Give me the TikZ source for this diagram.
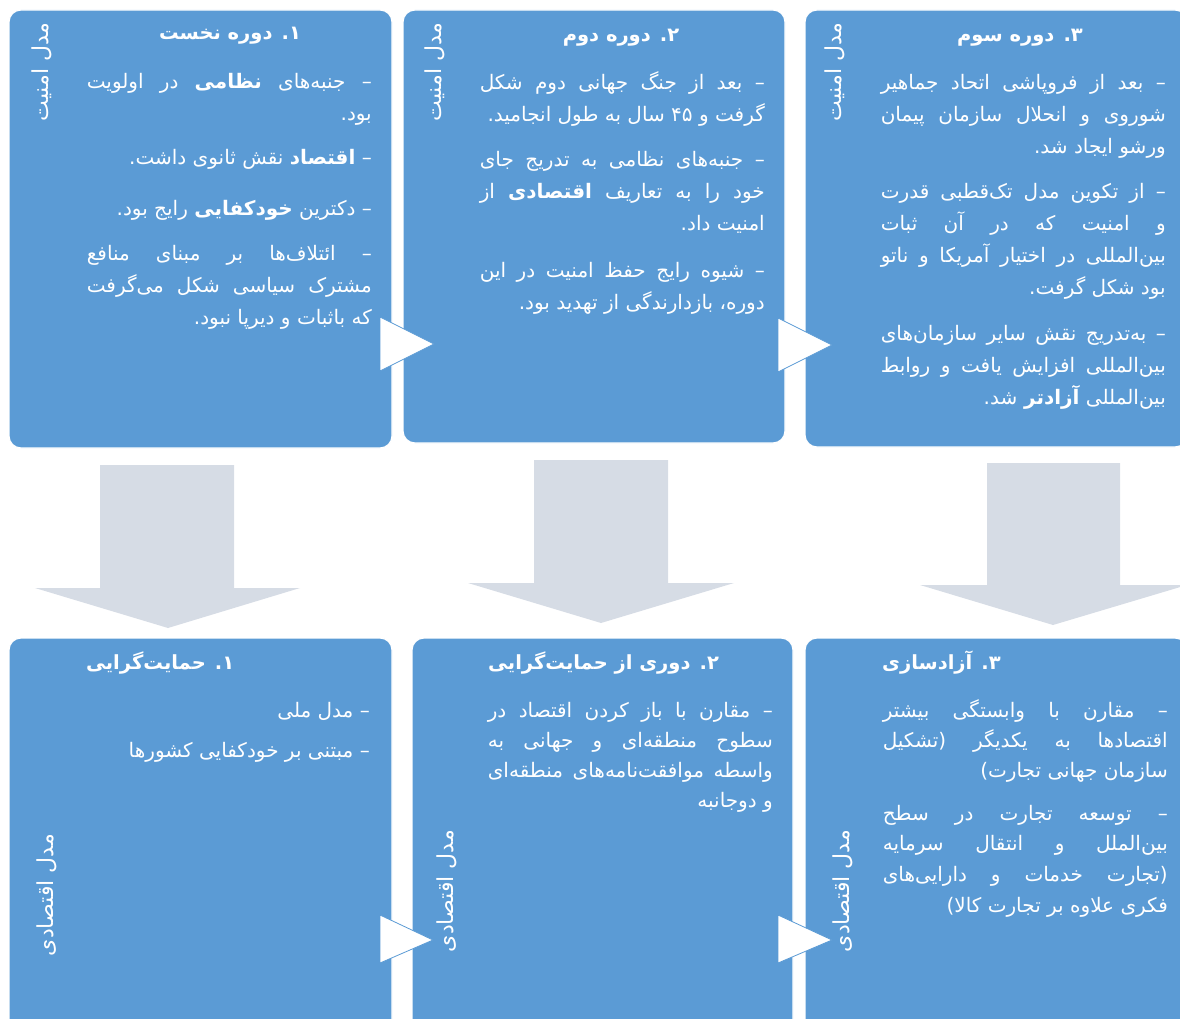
\documentclass[tikz,border=0pt]{standalone}
\usepackage{fontspec}
\newfontfamily\fa[Script=Arabic]{DejaVu Sans}
\TeXXeTstate=1
\definecolor{boxblue}{RGB}{91,155,213}
\definecolor{arrowgray}{RGB}{214,220,229}
\newlength\linew
\setlength\linew{285pt}
\newcommand\zw{^^^^200c}
\newcommand\jln[1]{\hbox to \linew{\beginR #1\endR}}
\newcommand\eln[1]{\hbox to \linew{\hfill\beginR #1\endR}}
\newcommand\paragr[2][32pt]{\vtop{\baselineskip=#1\relax #2}}
\newcommand\rl[1]{\beginR #1\endR}
\hbadness=10000
\hfuzz=50pt
\tikzset{
  box/.style={draw=white, line width=1.2pt, fill=boxblue, rounded corners=12pt, inner sep=0pt},
  txt/.style={text=white, font=\fa\fontsize{20}{32}\selectfont, inner sep=0pt, anchor=base east},
  ttl/.style={text=white, font=\fa\bfseries\fontsize{19.5}{22}\selectfont, inner sep=0pt, anchor=base},
  ttlw/.style={ttl, anchor=base west},
  side/.style={text=white, font=\fa\fontsize{22}{24}\selectfont, rotate=90, inner sep=0pt},
  tri/.style={fill=white, draw=boxblue, line width=0.8pt, line join=miter},
  downarrow/.style={fill=arrowgray}
}
\begin{document}
\begin{tikzpicture}[x=1pt,y=-1pt]
\useasboundingbox (0,0) rectangle (1180,1019);
\clip (0,0) rectangle (1180,1019);
% boxes
\node[box, minimum width=383pt, minimum height=438pt] (b1) at (200.5,229) {};
\node[box, minimum width=382pt, minimum height=433pt] (b2) at (594,226.5) {};
\node[box, minimum width=382pt, minimum height=437pt] (b3) at (996,228.5) {};
\node[box, minimum width=383pt, minimum height=402pt] (b4) at (200.5,839) {};
\node[box, minimum width=381pt, minimum height=402pt] (b5) at (602.5,839) {};
\node[box, minimum width=382pt, minimum height=402pt] (b6) at (996,839) {};
% down arrows
\coordinate (d1) at (168,628);
\coordinate (d2) at (601,623);
\coordinate (d3) at (1053,625);
\fill[downarrow] (100,465) -- (234,465) -- (234,588) -- (300,588) -- (d1) -- (35,588) -- (100,588) -- cycle;
\fill[downarrow] (534,460) -- (668,460) -- (668,583) -- (734,583) -- (d2) -- (468,583) -- (534,583) -- cycle;
\fill[downarrow] (987,463) -- (1120,463) -- (1120,585) -- (1187,585) -- (d3) -- (920,585) -- (987,585) -- cycle;
% side triangles
\coordinate (r1) at (434,344);
\coordinate (r2) at (832,345);
\coordinate (r3) at (433,940);
\coordinate (r4) at (832,940);
\draw[tri] (380,317) -- (r1) -- (380,371) -- cycle;
\draw[tri] (778,318) -- (r2) -- (778,372) -- cycle;
\draw[tri] (380,915) -- (r3) -- (380,963) -- cycle;
\draw[tri] (778,915) -- (r4) -- (778,963) -- cycle;
% side labels
\node[side] (s1) at (42,72) {\rl{مدل امنیت}};
\node[side] (s2) at (435,72) {\rl{مدل امنیت}};
\node[side] (s3) at (835,72) {\rl{مدل امنیت}};
\node[side] (s4) at (47,895) {\rl{مدل اقتصادی}};
\node[side] (s5) at (447,891) {\rl{مدل اقتصادی}};
\node[side] (s6) at (843,891) {\rl{مدل اقتصادی}};
% titles
\node[ttl] (h1) at (230,40) {\rl{۱. دوره نخست}};
\node[ttl] (h2) at (621,42) {\rl{۲. دوره دوم}};
\node[ttl] (h3) at (1020,42) {\rl{۳. دوره سوم}};
\node[ttlw] (h4) at (86,669) {\rl{۱. حمایت\zw گرایی}};
\node[ttlw] (h5) at (488,669) {\rl{۲. دوری از حمایت\zw گرایی}};
\node[ttlw] (h6) at (882,669) {\rl{۳. آزادسازی}};
% box 1
\node[txt] (t11) at (372,89) {\paragr{\jln{– جنبه\zw های \textbf{نظامی} در اولویت}\eln{بود.}}};
\node[txt] (t12) at (372,165) {\paragr{\eln{– \textbf{اقتصاد} نقش ثانوی داشت.}}};
\node[txt] (t13) at (372,215) {\paragr{\eln{– دکترین \textbf{خودکفایی} رایج بود.}}};
\node[txt] (t14) at (372,260) {\paragr{\jln{– ائتلاف\zw ها بر مبنای منافع}\jln{مشترک سیاسی شکل می\zw گرفت}\eln{که باثبات و دیرپا نبود.}}};
% box 2
\node[txt] (t21) at (765,90) {\paragr{\jln{– بعد از جنگ جهانی دوم شکل}\eln{گرفت و ۴۵ سال به طول انجامید.}}};
\node[txt] (t22) at (765,167) {\paragr{\jln{– جنبه\zw های نظامی به تدریج جای}\jln{خود را به تعاریف \textbf{اقتصادی} از}\eln{امنیت داد.}}};
\node[txt] (t23) at (765,277) {\paragr{\jln{– شیوه رایج حفظ امنیت در این}\eln{دوره، بازدارندگی از تهدید بود.}}};
% box 3
\node[txt] (t31) at (1166,90) {\paragr{\jln{– بعد از فروپاشی اتحاد جماهیر}\jln{شوروی و انحلال سازمان پیمان}\eln{ورشو ایجاد شد.}}};
\node[txt] (t32) at (1166,199) {\paragr{\jln{– از تکوین مدل تک\zw قطبی قدرت}\jln{و امنیت که در آن ثبات}\jln{بین\zw المللی در اختیار آمریکا و ناتو}\eln{بود شکل گرفت.}}};
\node[txt] (t33) at (1166,340) {\paragr{\jln{– به\zw تدریج نقش سایر سازمان\zw های}\jln{بین\zw المللی افزایش یافت و روابط}\eln{بین\zw المللی \textbf{آزادتر} شد.}}};
% box 4
\node[txt] (t41) at (370,717) {\paragr{\eln{– مدل ملی}}};
\node[txt] (t42) at (370,757) {\paragr{\eln{– مبتنی بر خودکفایی کشورها}}};
% box 5
\node[txt] (t51) at (773,717) {\paragr[30pt]{\jln{– مقارن با باز کردن اقتصاد در}\jln{سطوح منطقه\zw ای و جهانی به}\jln{واسطه موافقت\zw نامه\zw های منطقه\zw ای}\eln{و دوجانبه}}};
% box 6
\node[txt] (t61) at (1168,717) {\paragr[30pt]{\jln{– مقارن با وابستگی بیشتر}\jln{اقتصادها به یکدیگر (تشکیل}\eln{سازمان جهانی تجارت)}}};
\node[txt] (t62) at (1168,820) {\paragr[30.7pt]{\jln{– توسعه تجارت در سطح}\jln{بین\zw الملل و انتقال سرمایه}\jln{(تجارت خدمات و دارایی\zw های}\eln{فکری علاوه بر تجارت کالا)}}};
\end{tikzpicture}
\end{document}
